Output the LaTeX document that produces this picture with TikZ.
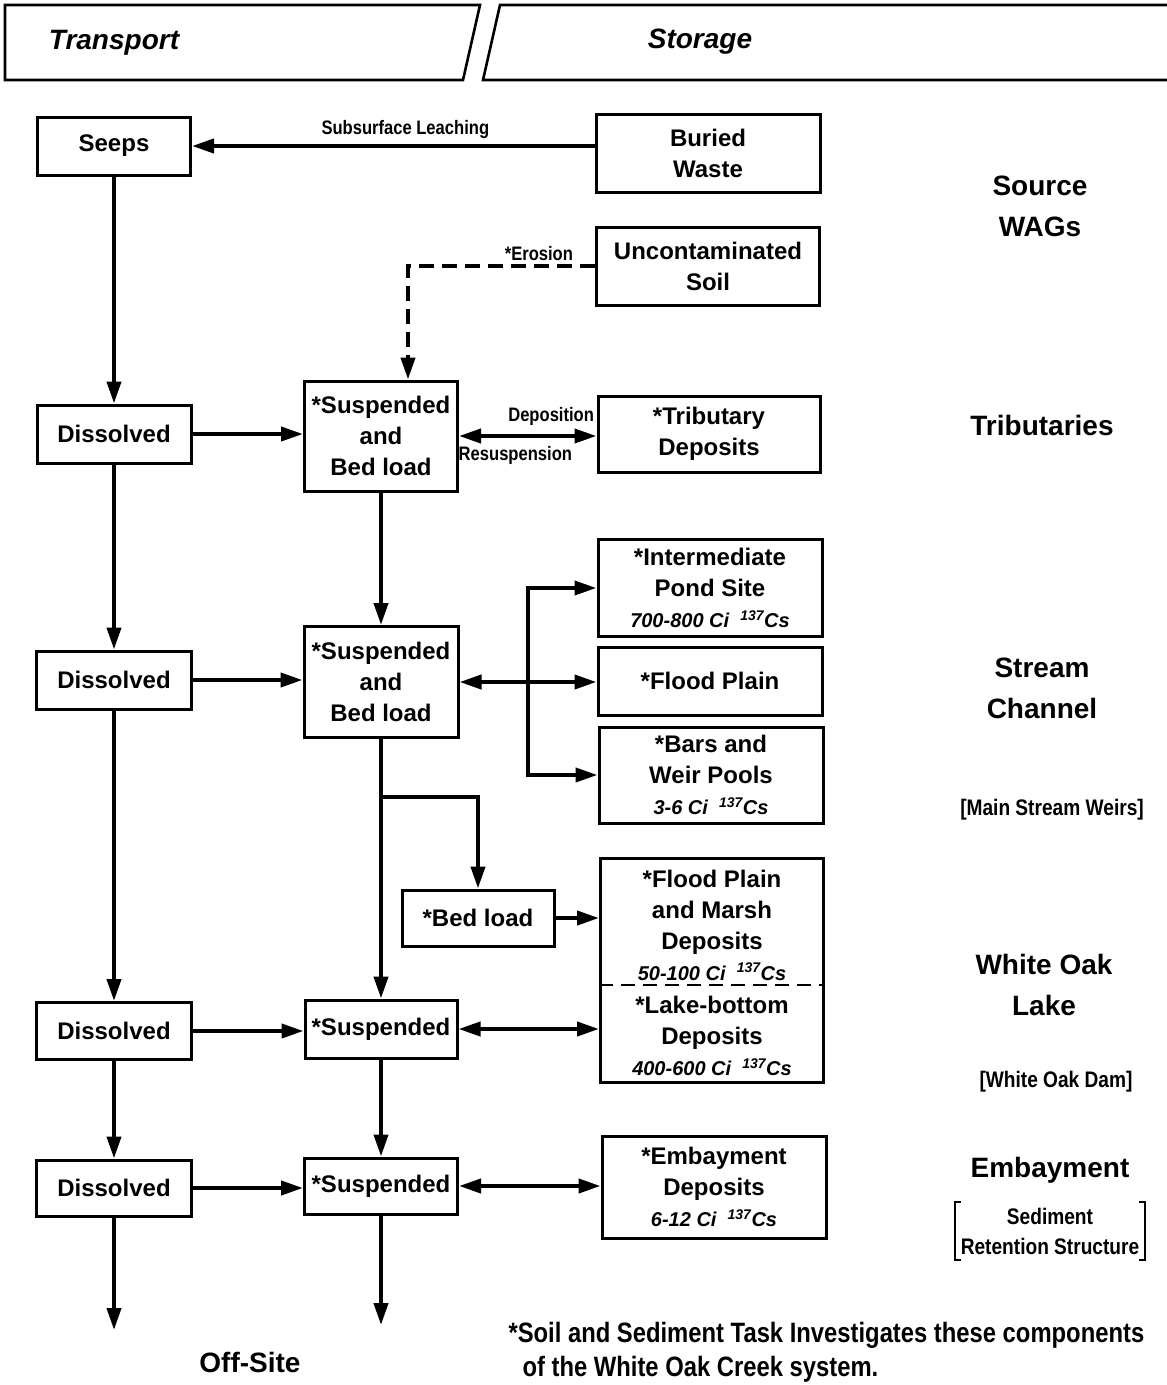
\documentclass[tikz,border=0pt]{standalone}
\usepackage{fontspec}
\setmainfont{Liberation Sans}
\newfontfamily\narrowsans[FakeStretch=0.85]{Liberation Sans}
\usetikzlibrary{arrows.meta}
\newcommand{\activity}[1]{{\fontsize{20}{24}\selectfont\itshape #1 Ci\ \ \textsuperscript{137}Cs}}

\begin{document}
\begin{tikzpicture}[x=1pt,y=-1pt,
    every node/.style={font=\fontsize{24}{31}\selectfont\bfseries},
    box/.style={draw, line width=3pt, align=center, inner sep=0pt},
    frame/.style={line width=2.6pt},
    heading/.style={align=center, font=\fontsize{28}{41}\selectfont\bfseries},
    remark/.style={align=center, font=\narrowsans\fontsize{22.5}{30}\selectfont\bfseries},
    tag/.style={font=\narrowsans\fontsize{19.5}{22}\selectfont\bfseries, inner sep=2pt},
    flow/.style={line width=4pt, -{Triangle[length=22pt,width=14pt]}},
    twoway/.style={flow, {Triangle[length=22pt,width=14pt]}-{Triangle[length=22pt,width=14pt]}},
    erosion/.style={flow, dash pattern=on 15pt off 8pt},
    divider/.style={line width=2.6pt, dash pattern=on 14pt off 8pt},
  ]
  \useasboundingbox (0,0) rectangle (1167,1385);

  % header
  \draw[frame] (5,5) -- (480,5) -- (463,80) -- (5,80) -- cycle;
  \draw[frame] (1167,5) -- (500,5) -- (483,80) -- (1167,80);
  \node[font=\fontsize{28}{34}\selectfont\bfseries\itshape] (transport) at (114,43) {Transport};
  \node[font=\fontsize{28}{34}\selectfont\bfseries\itshape] (storage) at (700,42) {Storage};

  % transport column
  \node[box, minimum width=153, minimum height=58] (seeps) at (114,146) {Seeps};
  \node[box, minimum width=154, minimum height=58] (diss1) at (114,434) {Dissolved};
  \node[box, minimum width=155, minimum height=58] (diss2) at (114,680) {Dissolved};
  \node[box, minimum width=155, minimum height=57] (diss3) at (114,1031) {Dissolved};
  \node[box, minimum width=155, minimum height=56] (diss4) at (114,1188) {Dissolved};
  \coordinate (offA) at (114,1330);

  % suspended column
  \node[box, minimum width=153, minimum height=110] (sbl1) at (381,436) {*Suspended\\and\\Bed load};
  \node[box, minimum width=154, minimum height=111] (sbl2) at (381,682) {*Suspended\\and\\Bed load};
  \node[box, minimum width=152, minimum height=56] (bedload) at (478,918) {*Bed load};
  \node[box, minimum width=152, minimum height=58] (susp3) at (381,1029) {*Suspended};
  \node[box, minimum width=153, minimum height=56] (susp4) at (381,1186) {*Suspended};
  \coordinate (offB) at (381,1325);

  % storage column
  \node[box, minimum width=224, minimum height=78] (buried) at (708,153) {Buried\\Waste};
  \node[box, minimum width=223, minimum height=78] (soil) at (708,266) {Uncontaminated\\Soil};
  \node[box, minimum width=222, minimum height=76] (trib) at (709,434) {*Tributary\\Deposits};
  \node[box, minimum width=224, minimum height=97] (pond) at (710,588) {*Intermediate\\Pond Site\\\activity{700-800}};
  \node[box, minimum width=224, minimum height=68] (plain) at (710,681) {*Flood Plain};
  \node[box, minimum width=224, minimum height=96] (bars) at (711,775) {*Bars and\\Weir Pools\\\activity{3-6}};
  \node[box, minimum width=223, minimum height=224] (lake) at (712,970) {};
  \node[align=center] (marsh) at (712,925) {*Flood Plain\\and Marsh\\Deposits\\\activity{50-100}};
  \node[align=center] (bottom) at (712,1036) {*Lake-bottom\\Deposits\\\activity{400-600}};
  \draw[divider] ([yshift=-15pt]lake.west) -- ([yshift=-15pt]lake.east);
  \node[box, minimum width=224, minimum height=102] (emb) at (714,1187) {*Embayment\\Deposits\\\activity{6-12}};

  % reaches
  \node[heading] (source) at (1040,206) {Source\\WAGs};
  \node[heading] (tribs) at (1042,425) {Tributaries};
  \node[heading] (channel) at (1042,688) {Stream\\Channel};
  \node[remark] (weirs) at (1052,810) {[Main Stream Weirs]};
  \node[heading] (wol) at (1044,985) {White Oak\\Lake};
  \node[remark] (dam) at (1056,1082) {[White Oak Dam]};
  \node[heading] (embay) at (1050,1170) {Embayment};
  \node[remark, inner xsep=6pt, inner ysep=6pt] (retain) at (1050,1231) {Sediment\\Retention Structure};
  \draw[line width=2pt] ([xshift=6pt]retain.north west) -- (retain.north west) -- (retain.south west) -- ([xshift=6pt]retain.south west);
  \draw[line width=2pt] ([xshift=-6pt]retain.north east) -- (retain.north east) -- (retain.south east) -- ([xshift=-6pt]retain.south east);

  % connectors
  \draw[flow] (seeps -| buried.west) -- node[tag, above=3pt, pos=0.47] {Subsurface Leaching} (seeps.east);
  \coordinate (bend) at (408,266);
  \draw[erosion] (soil.west) -- node[tag, above=1pt, pos=0.3] {*Erosion} (bend) -- (bend |- sbl1.north);
  \draw[flow] (seeps) -- (diss1);
  \draw[flow] (diss1) -- (diss1 -| sbl1.west);
  \draw[twoway] (sbl1) -- node[tag, above=6pt, pos=0.67] {Deposition}
    node[tag, below=6pt, pos=0.41] {Resuspension} (sbl1 -| trib.west);
  \draw[flow] (sbl1) -- (sbl2);
  \draw[flow] (diss1) -- (diss2);
  \draw[flow] (diss2) -- (diss2 -| sbl2.west);
  \coordinate (split) at (528,682);
  \draw[twoway] (sbl2) -- (sbl2 -| plain.west);
  \draw[flow] (split) |- (pond.west);
  \draw[flow] (split) |- (bars.west);
  \coordinate (fork) at (381,797);
  \draw[flow] (sbl2) -- (susp3);
  \draw[flow] (fork) -| (bedload);
  \draw[flow] (bedload) -- (bedload -| lake.west);
  \draw[flow] (diss2) -- (diss3);
  \draw[flow] (diss3) -- (diss3 -| susp3.west);
  \draw[twoway] (susp3) -- (susp3 -| lake.west);
  \draw[flow] (diss3) -- (diss4);
  \draw[flow] (susp3) -- (susp4);
  \draw[flow] (diss4) -- (diss4 -| susp4.west);
  \draw[twoway] (susp4) -- (susp4 -| emb.west);
  \draw[flow] (diss4) -- (offA);
  \draw[flow] (susp4) -- (offB);

  \node[heading] (offsite) at (250,1362) {Off-Site};
  \node[anchor=base west, align=left, font=\narrowsans\fontsize{28}{34}\selectfont\bfseries] (note) at (505,1376)
    {*Soil and Sediment Task Investigates these components\\\hspace*{14pt}of the White Oak Creek system.};
\end{tikzpicture}
\end{document}
